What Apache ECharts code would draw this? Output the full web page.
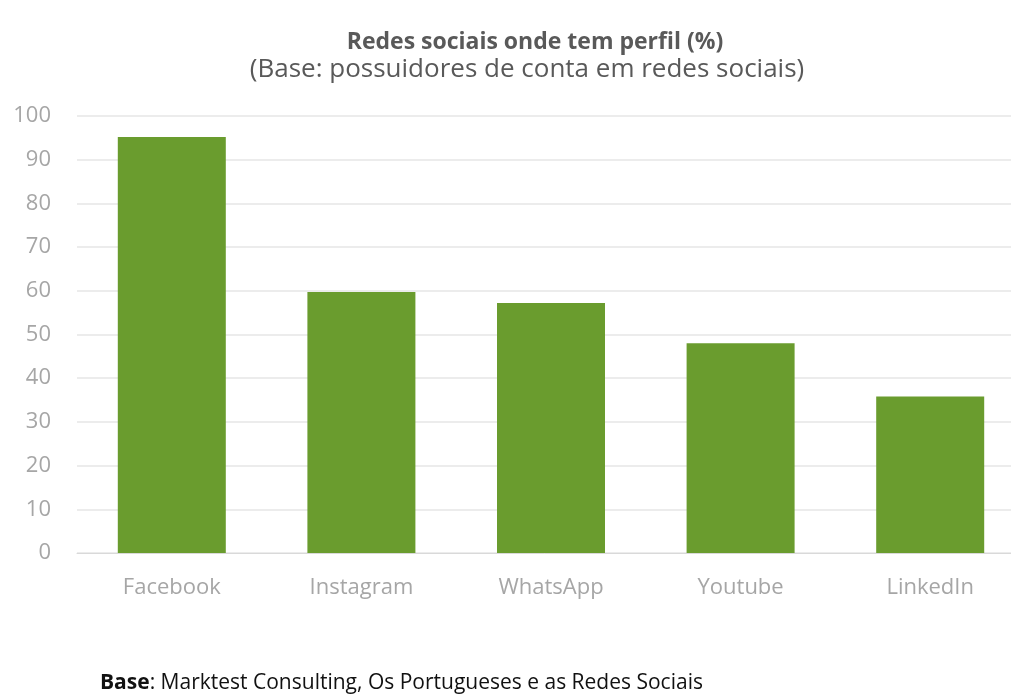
<!DOCTYPE html>
<html>
<head>
<meta charset="utf-8">
<script src="https://cdn.jsdelivr.net/npm/echarts@6/dist/echarts.min.js"></script>
<style>
html,body{margin:0;padding:0;background:#fff;}
#c{width:1011px;height:695px;}
</style>
</head>
<body>
<div id="c"></div>
<script>
const categories = ['Facebook', 'Instagram', 'WhatsApp', 'Youtube', 'LinkedIn'];
const values = [95.2, 59.7, 57.2, 48.0, 35.8];
const yTicks = [0, 10, 20, 30, 40, 50, 60, 70, 80, 90, 100];
const titleText = 'Redes sociais onde tem perfil (%)';
const subtitleText = '(Base: possuidores de conta em redes sociais)';
const footerBold = 'Base';
const footerRest = ': Marktest Consulting, Os Portugueses e as Redes Sociais';

const chart = echarts.init(document.getElementById('c'), null, {renderer: 'canvas'});
const font = '"Open Sans", "Noto Sans", sans-serif';
chart.setOption({
  animation: false,
  backgroundColor: '#ffffff',
  graphic: [
    {
      type: 'text', x: 535, y: 42,
      style: {text: titleText, fontFamily: font, fontSize: 23, fontWeight: 'bold',
        fill: '#595959', align: 'center', verticalAlign: 'middle'}
    },
    {
      type: 'text', x: 527, y: 70,
      style: {text: subtitleText, fontFamily: font, fontSize: 26, fontWeight: 'normal',
        fill: '#595959', align: 'center', verticalAlign: 'middle'}
    },
    {
      type: 'text', x: 100, y: 683,
      style: {
        text: '{b|' + footerBold + '}{n|' + footerRest + '}',
        fontFamily: font, fontSize: 21, fill: '#111111', align: 'left', verticalAlign: 'middle',
        rich: {
          b: {fontFamily: font, fontSize: 21, fontWeight: 'bold', fill: '#111111'},
          n: {fontFamily: font, fontSize: 21, fontWeight: 'normal', fill: '#111111'}
        }
      }
    }
  ],
  grid: {left: 77, width: 948, top: 116, bottom: 142, containLabel: false, outerBoundsMode: 'none'},
  xAxis: {
    type: 'category',
    data: categories,
    axisLine: {show: true, lineStyle: {color: '#d9d9d9', width: 1}},
    axisTick: {show: false},
    axisLabel: {fontFamily: font, fontSize: 22, color: '#a6a6a6', margin: 24}
  },
  yAxis: {
    type: 'value',
    min: yTicks[0], max: yTicks[yTicks.length - 1], interval: 10,
    axisLine: {show: false},
    axisTick: {show: false},
    splitLine: {lineStyle: {color: '#e6e6e6', width: 1.5}},
    axisLabel: {fontFamily: font, fontSize: 22, color: '#a6a6a6', margin: 26}
  },
  series: [{
    type: 'bar',
    data: values,
    barWidth: 108,
    itemStyle: {color: '#6a9c2e'}
  }]
});
</script>
</body>
</html>
